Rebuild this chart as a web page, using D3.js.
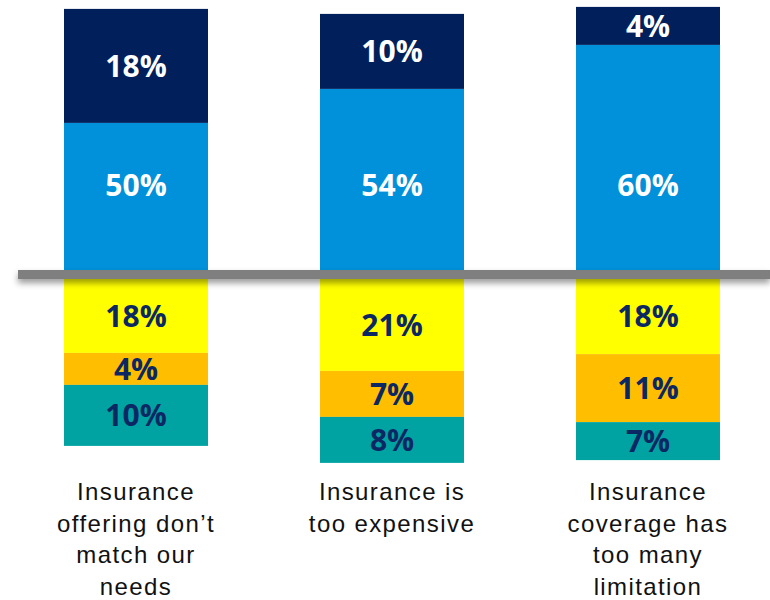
<!DOCTYPE html>
<html>
<head>
<meta charset="utf-8">
<script src="https://cdn.jsdelivr.net/npm/d3@7"></script>
<style>
  html, body { margin: 0; padding: 0; background: #ffffff; }
  svg { display: block; }
</style>
</head>
<body>
<svg id="chart" width="770" height="600"></svg>
<script>
// ---- data ----
const categories = ["c1", "c2", "c3"];
const categoryLines = [
  ["Insurance", "offering don\u2019t", "match our", "needs"],
  ["Insurance is", "too expensive"],
  ["Insurance", "coverage has", "too many", "limitation"]
];
// labelled shares (%)
const pctNavy   = [18, 10, 4];
const pctBlue   = [50, 54, 60];
const pctYellow = [18, 21, 18];
const pctOrange = [4, 7, 11];
const pctTeal   = [10, 8, 7];
// segment sizes as drawn in the (not-to-scale) reference, in chart units
const drawnNavy   = [28.5, 18.75, 9.5];
const drawnBlue   = [37.9, 46.4, 57.4];
const drawnYellow = [19.6, 24.1, 19.9];
const drawnOrange = [8, 11.5, 17];
const drawnTeal   = [15.25, 11.5, 9.5];
const blueLabelLevel = 22.4;

const svg = d3.select("#chart");
const x = d3.scalePoint().domain(categories).range([136, 648]);
const barW = 144;
const y = d3.scaleLinear().domain([-48, 67]).range([466.5, 6.5]);

const lineTop = 270, lineBot = 279;

const series = [
  { key: "blue",   drawn: drawnBlue,   pct: pctBlue,   dir: 1,  fill: "#0091DA", text: "#ffffff" },
  { key: "navy",   drawn: drawnNavy,   pct: pctNavy,   dir: 1,  fill: "#001F5B", text: "#ffffff" },
  { key: "yellow", drawn: drawnYellow, pct: pctYellow, dir: -1, fill: "#FFFF00", text: "#0B2864" },
  { key: "orange", drawn: drawnOrange, pct: pctOrange, dir: -1, fill: "#FFBF00", text: "#0B2864" },
  { key: "teal",   drawn: drawnTeal,   pct: pctTeal,   dir: -1, fill: "#00A3A1", text: "#0B2864" }
];

// build stacked segments
const segs = [];
categories.forEach((c, i) => {
  let up = 0, down = 0;
  series.forEach(s => {
    const v = s.drawn[i];
    let v0, v1;
    if (s.dir > 0) { v0 = up; v1 = up + v; up = v1; }
    else { v0 = down; v1 = down - v; down = v1; }
    segs.push({ cat: c, i, s, v0, v1, pct: s.pct[i] });
  });
});

const defs = svg.append("defs");
const f = defs.append("filter").attr("id", "shadow")
  .attr("x", "-5%").attr("y", "-100%").attr("width", "110%").attr("height", "400%");
f.append("feDropShadow").attr("dx", 0).attr("dy", 4).attr("stdDeviation", 3)
  .attr("flood-color", "#000").attr("flood-opacity", 0.4);

svg.append("g").selectAll("rect").data(segs).join("rect")
  .attr("x", d => x(d.cat) - barW / 2)
  .attr("width", barW)
  .attr("y", d => Math.min(y(d.v0), y(d.v1)))
  .attr("height", d => Math.abs(y(d.v0) - y(d.v1)))
  .attr("fill", d => d.s.fill);

// baseline
svg.append("rect")
  .attr("x", 18).attr("width", 770 - 18)
  .attr("y", lineTop).attr("height", lineBot - lineTop)
  .attr("fill", "#7F7F7F")
  .attr("filter", "url(#shadow)");

// value labels
svg.append("g").selectAll("text").data(segs).join("text")
  .attr("x", d => x(d.cat))
  .attr("y", d => {
    if (d.s.key === "blue") return y(blueLabelLevel);
    let a = y(d.v0), b = y(d.v1);
    let top = Math.min(a, b), bot = Math.max(a, b);
    if (d.s.dir < 0) top = Math.max(top, lineBot);
    else bot = Math.min(bot, lineTop);
    return (top + bot) / 2;
  })
  .attr("dy", "0.36em")
  .attr("text-anchor", "middle")
  .attr("font-family", "'Open Sans', 'Noto Sans', sans-serif")
  .attr("font-weight", 700)
  .attr("font-size", 30)
  .attr("fill", d => d.s.text)
  .text(d => d.pct + "%");

// category labels
const cat = svg.append("g").selectAll("text").data(categories).join("text")
  .attr("x", d => x(d))
  .attr("y", 500)
  .attr("text-anchor", "middle")
  .attr("font-family", "'Liberation Sans', Arial, sans-serif")
  .attr("font-size", 24)
  .attr("letter-spacing", 1.4)
  .attr("fill", "#111111");
cat.each(function(d, i) {
  d3.select(this).selectAll("tspan").data(categoryLines[i]).join("tspan")
    .attr("x", x(d))
    .attr("dy", (t, j) => j === 0 ? 0 : 31.5)
    .text(t => t);
});
</script>
</body>
</html>
